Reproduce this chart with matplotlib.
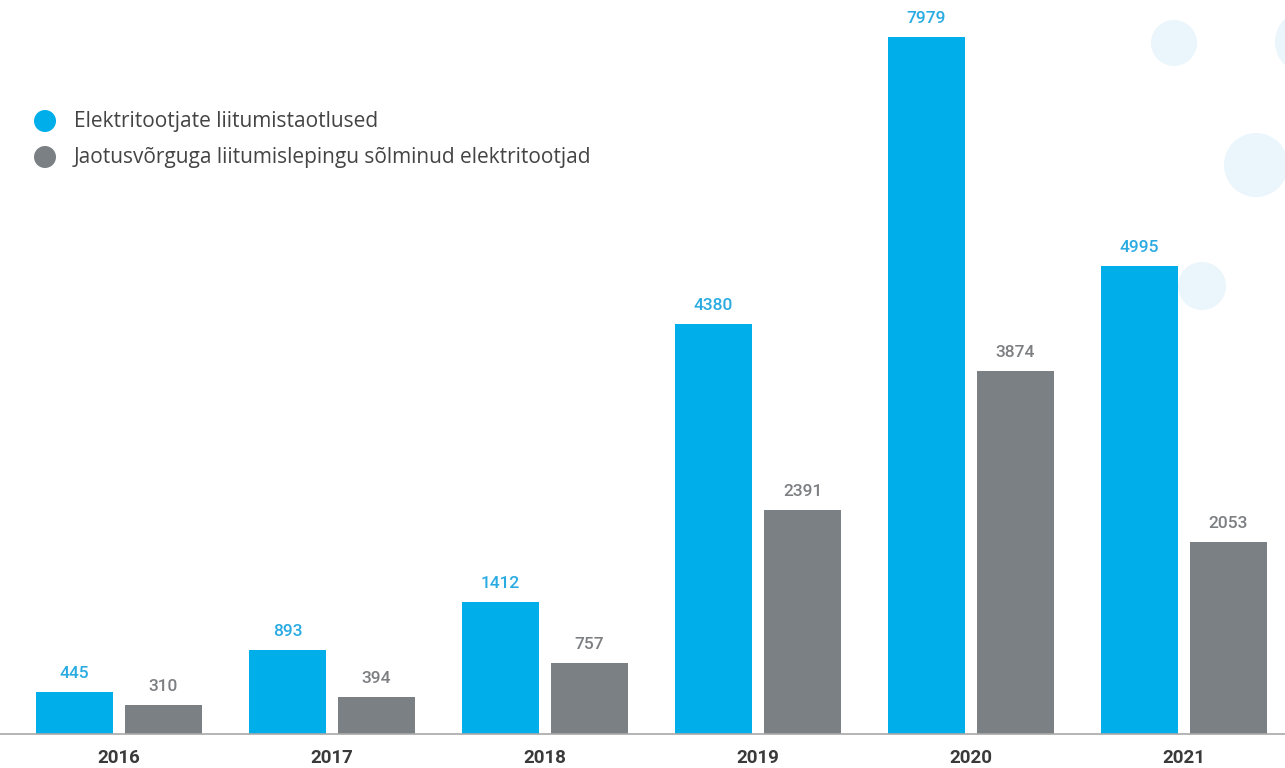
import matplotlib.pyplot as plt
import matplotlib as mpl
from matplotlib.patches import Circle
import numpy as np

mpl.rcParams['font.family'] = ['Roboto', 'DejaVu Sans']

years = ["2016", "2017", "2018", "2019", "2020", "2021"]
applications = [445, 893, 1412, 4380, 7979, 4995]
contracts = [310, 394, 757, 2391, 3874, 2053]
legend_labels = ["Elektritootjate liitumistaotlused",
                 "Jaotusvõrguga liitumislepingu sõlminud elektritootjad"]

blue = "#00AEEA"
gray = "#7A8083"
blue_txt = "#29ABE2"
gray_txt = "#7C7F82"

fig = plt.figure(figsize=(12.85, 7.68), dpi=100)

# decorative light circles in pixel space
bg = fig.add_axes([0, 0, 1, 1], zorder=0)
bg.set_xlim(0, 1285)
bg.set_ylim(768, 0)
bg.set_aspect("equal")
bg.axis("off")
for cx, cy, r in [(1174, 43, 23), (1307, 42, 32), (1256, 165, 32), (1202, 286, 24)]:
    bg.add_patch(Circle((cx, cy), r, color="#EAF6FC", lw=0))

ax = fig.add_axes([0, 34 / 768, 1, 697 / 768], zorder=1)
ax.patch.set_alpha(0)
top = 7440  # the 2020 bar runs past the top, as in the original
ax.set_ylim(0, top)
ax.set_xlim(-0.5587, 5.474)

x = np.arange(len(years))
w = 0.3615
off = 0.209
ax.bar(x - off, applications, w, color=blue, zorder=2)
ax.bar(x + off, contracts, w, color=gray, zorder=2)

for xi, a, c in zip(x, applications, contracts):
    ax.annotate(str(a), (xi - off, min(a, top)), xytext=(0, 8), textcoords="offset points",
                ha="center", va="bottom", color=blue_txt, fontsize=12.5, fontweight="medium",
                annotation_clip=False)
    ax.annotate(str(c), (xi + off, c), xytext=(0, 8), textcoords="offset points",
                ha="center", va="bottom", color=gray_txt, fontsize=12.5, fontweight="medium")

for s in ["top", "right", "left"]:
    ax.spines[s].set_visible(False)
ax.spines["bottom"].set_color("#A8A8A8")
ax.spines["bottom"].set_linewidth(1.2)
ax.set_yticks([])
ax.set_xticks(x)
ax.set_xticklabels(years, fontsize=13.5, fontweight="bold", color="#3A3A3A")
ax.tick_params(axis="x", length=0, pad=11)

# legend
for i, (lab, col) in enumerate(zip(legend_labels, [blue, gray])):
    y = 121 + i * 36
    bg.add_patch(Circle((45, y), 11, color=col, lw=0))
    fig.text(74 / 1285, 1 - y / 768, lab, fontsize=15, color="#444444",
             family=["Open Sans", "DejaVu Sans"], va="center", ha="left")

fig.savefig("out.png", dpi=100)
